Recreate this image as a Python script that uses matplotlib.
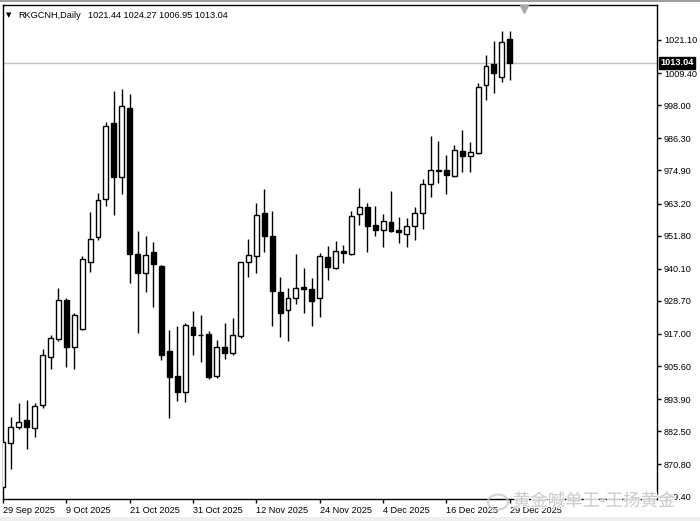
import numpy as np
import pandas as pd
import matplotlib
matplotlib.use("Agg")
import matplotlib.pyplot as plt
import matplotlib.patheffects as pe
from matplotlib.patches import Ellipse, Rectangle

# daily bars, RKGCNH
opens = [862.8, 878.3, 884.2, 886.4, 883.8, 891.9, 909.0, 915.3, 929.1, 912.3,
         918.7, 942.6, 951.4, 964.7, 991.8, 972.7, 997.0, 945.4, 938.7, 945.9,
         941.1, 910.9, 902.2, 896.6, 919.4, 916.8, 917.0, 902.0, 912.4, 910.4,
         916.3, 942.4, 944.7, 959.7, 951.7, 931.9, 925.5, 929.6, 933.7, 933.0,
         929.7, 944.3, 940.2, 946.4, 945.3, 959.4, 962.1, 955.7, 953.9, 956.8,
         953.7, 952.5, 955.3, 959.7, 970.0, 974.9, 975.1, 973.0, 981.8, 980.0,
         981.0, 1005.2, 1012.5, 1007.9, 1021.44]
highs = [879.0, 887.5, 892.5, 893.6, 892.7, 911.8, 916.6, 933.4, 929.8, 924.3,
         944.6, 960.1, 966.8, 992.0, 1003.0, 1003.7, 1002.0, 953.5, 951.7, 949.5,
         941.3, 918.4, 919.8, 921.0, 925.1, 923.6, 918.2, 914.9, 920.8, 922.6,
         942.6, 950.6, 963.3, 968.3, 960.7, 937.3, 933.4, 945.3, 940.4, 936.9,
         945.7, 948.0, 949.9, 948.4, 960.5, 968.8, 963.3, 962.4, 959.4, 967.7,
         958.5, 958.2, 962.1, 971.8, 987.1, 985.3, 980.4, 983.9, 989.1, 985.1,
         1005.8, 1015.8, 1020.7, 1024.4, 1024.27]
lows = [862.5, 869.1, 883.2, 876.2, 880.6, 890.7, 904.7, 914.6, 905.2, 904.5,
        918.4, 938.8, 950.3, 962.4, 959.1, 966.5, 934.9, 917.5, 931.8, 926.4,
        907.8, 887.1, 893.3, 892.8, 909.6, 907.2, 900.9, 901.3, 908.0, 909.7,
        915.7, 937.3, 938.5, 945.9, 919.9, 916.0, 914.6, 927.6, 924.4, 919.9,
        923.1, 936.0, 940.0, 942.2, 945.1, 955.5, 946.1, 951.7, 947.9, 953.0,
        949.3, 947.9, 950.3, 954.2, 965.6, 970.4, 966.5, 972.7, 974.3, 974.5,
        980.8, 999.7, 1002.2, 1006.3, 1006.95]
closes = [878.7, 884.2, 885.7, 884.2, 891.6, 909.4, 915.6, 929.0, 912.3, 923.6,
          943.4, 950.7, 964.4, 990.8, 972.7, 997.7, 945.2, 938.7, 945.1, 941.9,
          909.6, 901.9, 896.6, 920.1, 916.7, 916.5, 901.7, 912.5, 910.4, 916.5,
          942.4, 944.9, 959.2, 951.7, 932.1, 924.4, 929.8, 933.4, 933.0, 928.7,
          944.5, 940.6, 946.4, 945.6, 958.9, 962.0, 955.2, 953.9, 957.0, 953.6,
          953.1, 955.1, 959.9, 970.0, 975.1, 974.7, 973.2, 982.0, 980.0, 981.4,
          1004.4, 1012.0, 1009.3, 1020.5, 1013.04]

price_ticks = [1021.10, 1009.40, 998.00, 986.30, 974.90, 963.20, 951.80, 940.10,
               928.70, 917.00, 905.60, 893.90, 882.50, 870.80, 859.40]
last_price = 1013.04

dates = pd.bdate_range("2025-09-29", "2025-12-29")
dates = dates[dates != pd.Timestamp("2025-12-25")]

o = np.array(opens)
h = np.array(highs)
l = np.array(lows)
c = np.array(closes)
x = np.arange(len(o))

fig = plt.figure(figsize=(7.0, 5.21), dpi=100)
ax = fig.add_axes([3 / 700, 22 / 521, 654 / 700, 494 / 521])

# current price line
ax.axhline(last_price, color="#c0c0c0", lw=1, zorder=1)

# candles
ax.vlines(x, l, h, color="black", lw=1, zorder=2)
up = c >= o
body_lo = np.minimum(o, c)
body_h = np.maximum(np.abs(c - o), 0.25)
ax.bar(x, body_h, bottom=body_lo, width=0.62,
       color=np.where(up, "white", "black"), edgecolor="black", linewidth=1, zorder=3)

ax.set_xlim(0, 82.6)
ax.set_ylim(858.57, 1033.49)

# axes look
for s in ax.spines.values():
    s.set_color("black")
    s.set_linewidth(1)
ax.yaxis.tick_right()
ax.set_yticks(price_ticks, [f"{p:.2f}" for p in price_ticks])
tick_idx = x[::8]
ax.set_xticks(tick_idx, [f"{d.day} {d:%b %Y}" for d in dates[tick_idx]])
for lbl in ax.get_xticklabels():
    lbl.set_ha("left")
ax.tick_params(axis="both", length=3, width=1, pad=2, labelsize=6.6, colors="black")
for lbl in ax.get_xticklabels() + ax.get_yticklabels():
    lbl.set_family("Liberation Sans")

# last price box on the price scale
ax.annotate(f"{last_price:.2f}", xy=(1, last_price), xycoords=("axes fraction", "data"),
            xytext=(2.2, 0), textcoords="offset points", ha="left", va="center",
            fontsize=6.6, family="Liberation Sans", color="white", fontweight="bold",
            bbox=dict(boxstyle="square,pad=0.15", fc="black", ec="black"), zorder=5)

# chart shift marker
ax.plot([(524 - 3) / 7.92], [1033.49 - 3.5 / 2.824], marker="v", ms=6, color="#a8a8a8",
        clip_on=False, zorder=6)

# header text
fig.text(6 / 700, 1 - 15 / 521, "\u25bc", fontsize=5, family="DejaVu Sans", va="center")
fig.text(18 / 700, 1 - 15 / 521, "RKGCNH,Daily", fontsize=6.6, family="Liberation Sans",
         va="center")
fig.text(88 / 700, 1 - 15 / 521,
         " ".join(f"{v:.2f}" for v in (opens[-1], highs[-1], lows[-1], closes[-1])),
         fontsize=6.6, family="Liberation Sans", va="center")

# window strips
fig.add_artist(Rectangle((0, 0), 1, 4 / 521, transform=fig.transFigure,
                         fc="#efefef", ec="none"))
fig.add_artist(Rectangle((0, 1 - 1.5 / 521), 1, 1.5 / 521, transform=fig.transFigure,
                         fc="#a0a0a0", ec="none"))

# watermark
fig.add_artist(Ellipse((498 / 700, 1 - 502 / 521), 20 / 700, 15 / 521,
                       transform=fig.transFigure, fc="none", ec="#c8c8c8", lw=1.5,
                       alpha=0.8))
fig.text(513 / 700, 1 - 501 / 521, "黄金喊单王-王扬黄金", fontsize=12.5,
         family=["Noto Sans CJK SC", "DejaVu Sans"], color="#c4c4c4", alpha=0.85,
         va="center", ha="left",
         path_effects=[pe.withStroke(linewidth=2, foreground="white")])

fig.savefig("out.png", dpi=100)
